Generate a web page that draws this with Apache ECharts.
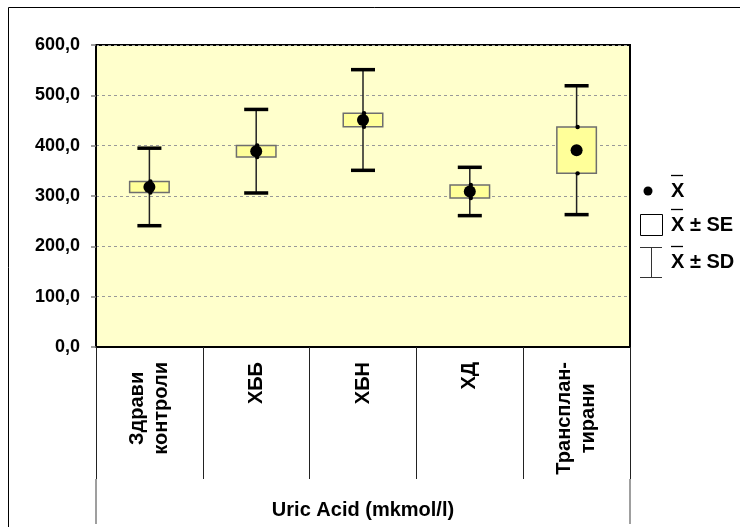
<!DOCTYPE html>
<html>
<head>
<meta charset="utf-8">
<script src="https://cdn.jsdelivr.net/npm/echarts@6/dist/echarts.min.js"></script>
<style>
  html, body { margin: 0; padding: 0; background: #fff; }
  #chart { width: 740px; height: 527px; }
</style>
</head>
<body>
<div id="chart"></div>
<script>
// Uric acid by patient group: mean, standard error and standard deviation
const categories = ['Здрави\nконтроли', 'ХББ', 'ХБН', 'ХД', 'Трансплан-\nтирани'];
const meanValues = [318, 389, 451, 309, 391];
const seValues = [11, 11.5, 13.5, 13, 46];
const sdValues = [77, 83, 100, 48, 128];
const yTicks = { min: 0, max: 600, interval: 100 };
const axisTitle = 'Uric Acid (mkmol/l)';

const FONT = '"Liberation Sans", Arial, sans-serif';

const chart = echarts.init(document.getElementById('chart'), null, { renderer: 'canvas' });

const seriesData = categories.map((c, i) => [i, meanValues[i], seValues[i], sdValues[i]]);

function renderStat(params, api) {
  const i = api.value(0);
  const mean = api.value(1);
  const se = api.value(2);
  const sd = api.value(3);
  const band = api.size([1, 0])[0];
  const center = api.coord([i, mean]);
  const x = center[0];
  const ySdHigh = api.coord([i, mean + sd])[1];
  const ySdLow = api.coord([i, mean - sd])[1];
  const ySeHigh = api.coord([i, mean + se])[1];
  const ySeLow = api.coord([i, mean - se])[1];
  const boxW = band * 0.37;
  const capW = band * 0.225;
  return {
    type: 'group',
    children: [
      { type: 'line', shape: { x1: x, y1: ySdHigh, x2: x, y2: ySdLow },
        style: { stroke: '#222', lineWidth: 1.5 } },
      { type: 'line', shape: { x1: x - capW / 2, y1: ySdHigh, x2: x + capW / 2, y2: ySdHigh },
        style: { stroke: '#000', lineWidth: 3.5 } },
      { type: 'line', shape: { x1: x - capW / 2, y1: ySdLow, x2: x + capW / 2, y2: ySdLow },
        style: { stroke: '#000', lineWidth: 3.5 } },
      { type: 'rect', shape: { x: x - boxW / 2, y: ySeHigh, width: boxW, height: ySeLow - ySeHigh },
        style: { fill: '#FFFF99', stroke: '#6e6e6e', lineWidth: 1.5 } },
      { type: 'circle', shape: { cx: x + 1, cy: ySeHigh, r: 2.2 }, style: { fill: '#000' } },
      { type: 'circle', shape: { cx: x + 1, cy: ySeLow, r: 2.2 }, style: { fill: '#000' } },
      { type: 'circle', shape: { cx: x, cy: center[1], r: 6 }, style: { fill: '#000' } }
    ]
  };
}

// Legend drawn as graphic elements (mean dot, SE box, SD whisker, with overbarred X)
function legendLabel(x, y, text) {
  return [
    { type: 'text', x: x, y: y,
      style: { text: text, font: 'bold 20px ' + FONT, fill: '#000', align: 'left', verticalAlign: 'middle' } },
    { type: 'line', shape: { x1: x, y1: y - 15.5, x2: x + 12, y2: y - 15.5 },
      style: { stroke: '#000', lineWidth: 1.3 } }
  ];
}

const legendGraphics = [
  // outer chart frame
  { type: 'rect', shape: { x: 8.5, y: 7.5, width: 900, height: 700 },
    style: { fill: null, stroke: '#000', lineWidth: 1 }, silent: true, z: -10 },
  { type: 'circle', shape: { cx: 648, cy: 191, r: 4.5 }, style: { fill: '#000' } },
  ...legendLabel(671, 191, 'X'),
  { type: 'rect', shape: { x: 640.5, y: 214.5, width: 22, height: 21 },
    style: { fill: '#fff', stroke: '#000', lineWidth: 1 } },
  ...legendLabel(671, 225, 'X ± SE'),
  { type: 'line', shape: { x1: 640, y1: 247.5, x2: 662, y2: 247.5 }, style: { stroke: '#333', lineWidth: 1 } },
  { type: 'line', shape: { x1: 651.5, y1: 247.5, x2: 651.5, y2: 277.5 }, style: { stroke: '#333', lineWidth: 1 } },
  { type: 'line', shape: { x1: 640, y1: 277.5, x2: 662, y2: 277.5 }, style: { stroke: '#333', lineWidth: 1 } },
  ...legendLabel(671, 262, 'X ± SD')
];

const option = {
  animation: false,
  backgroundColor: '#fff',
  grid: {
    left: 96, top: 45, width: 534, height: 302,
    show: true, backgroundColor: '#FFFFCC', borderColor: '#000', borderWidth: 2
  },
  xAxis: [
    {
      type: 'category',
      data: categories,
      position: 'bottom',
      boundaryGap: true,
      axisLine: { show: true, lineStyle: { color: '#000', width: 2 } },
      axisTick: { show: true, length: 132, lineStyle: { color: '#222', width: 1 } },
      splitLine: { show: false },
      axisLabel: {
        rotate: 90,
        margin: 15,
        interval: 0,
        formatter: v => v.split('\n').map(l => '{c|' + l + '}').join('\n'),
        rich: {
          c: { align: 'center', fontFamily: FONT, fontWeight: 'bold', fontSize: 20, lineHeight: 24, color: '#000' }
        }
      }
    },
    {
      type: 'category',
      data: [axisTitle],
      position: 'bottom',
      offset: 132,
      boundaryGap: true,
      axisLine: { show: false },
      axisTick: { show: true, length: 45, lineStyle: { color: '#808080', width: 1.5 } },
      axisLabel: { margin: 21, fontFamily: FONT, fontWeight: 'bold', fontSize: 20, color: '#000' }
    }
  ],
  yAxis: {
    type: 'value',
    min: yTicks.min,
    max: yTicks.max,
    interval: yTicks.interval,
    axisLine: { show: true, lineStyle: { color: '#000', width: 2 } },
    axisTick: { show: true, length: 5, lineStyle: { color: '#808080', width: 1.5 } },
    splitLine: { show: true, lineStyle: { color: '#999', type: [3, 3], width: 1 } },
    axisLabel: {
      margin: 16,
      fontFamily: FONT, fontWeight: 'bold', fontSize: 18, color: '#000',
      formatter: v => v.toFixed(1).replace('.', ',')
    }
  },
  series: [
    {
      type: 'custom',
      xAxisIndex: 0,
      renderItem: renderStat,
      encode: { x: 0, y: 1 },
      data: seriesData,
      z: 5
    }
  ],
  graphic: legendGraphics
};

chart.setOption(option);
</script>
</body>
</html>
